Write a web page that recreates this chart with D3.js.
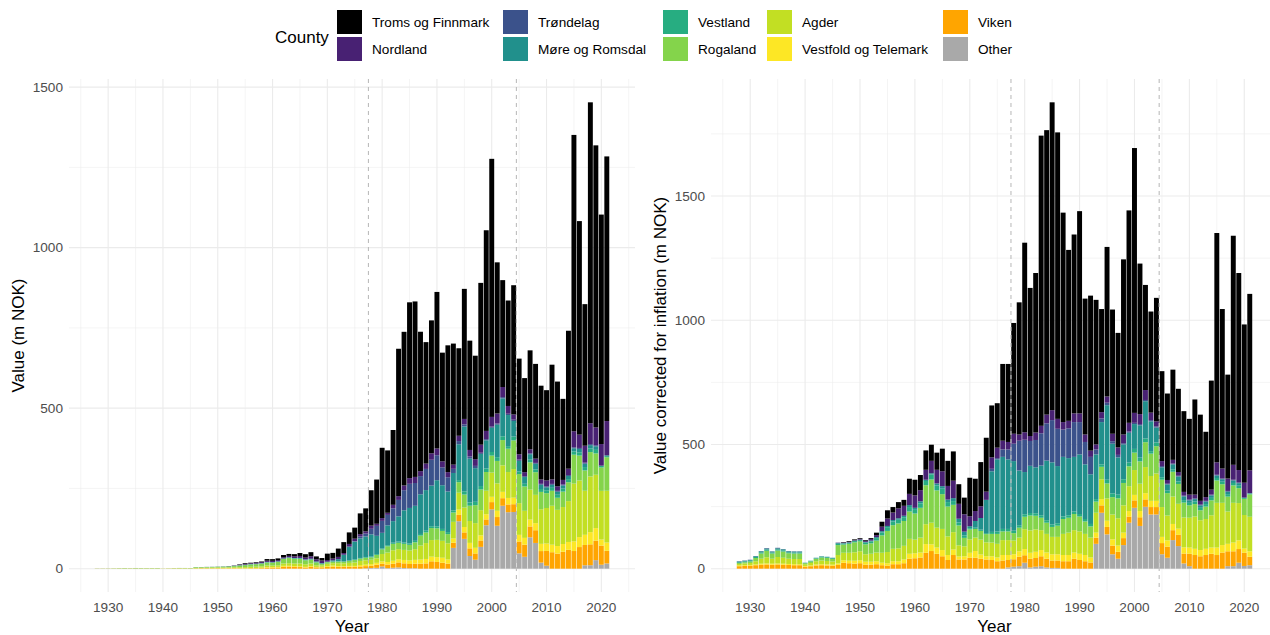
<!DOCTYPE html>
<html><head><meta charset="utf-8">
<script src="https://cdn.jsdelivr.net/npm/d3@7"></script>
<style>
body{margin:0;background:#fff}
svg{font-family:"Liberation Sans",Arial,Helvetica,sans-serif}
</style></head>
<body><svg id="chart" width="1270" height="635"></svg>
<script>
// ---------- DATA (values corrected for inflation, m NOK, 1928..2021) ----------
const firstYear = 1928, lastYear = 2021;
const years = d3.range(firstYear, lastYear + 1);

// consumer price index (2015 = 100) used to go from corrected to nominal values
const cpi = [
 2.85,2.75,2.65,2.55,2.5,2.48,2.5,2.55,2.6,2.75,
 2.85,2.9,3.4,3.9,4.3,4.5,4.6,4.7,4.8,4.9,
 5.0,5.0,5.3,6.2,6.75,6.9,7.2,7.25,7.5,7.7,
 8.1,8.27,8.3,8.5,8.95,9.2,9.7,10.1,10.4,10.9,
 11.25,11.6,12.8,13.6,14.6,15.7,17.2,19.2,20.9,22.8,
 24.7,25.9,28.7,32.6,36.3,39.3,41.8,44.2,47.4,51.5,
 55.0,57.5,59.9,61.9,63.3,64.8,65.7,67.3,68.1,69.9,
 71.5,73.1,75.4,77.7,78.7,80.7,81.0,82.3,84.2,84.9,
 88.1,89.9,92.2,93.3,94.0,96.0,97.9,100,103.6,105.5,
 108.4,110.8,112.2,116.1];

const other = [
 0,0,0,0,0,0,0,0,0,0, 0,0,0,0,0,0,0,0,0,0, 0,0,0,0,0,0,0,0,0,0, 0,0,0,0,0,0,0,0,0,0,
 0,0,0,0,0,0,0,0,0,5, 8,10,24,5,8,10,5,3,3,0, 0,0,0,0,0,100,225,138,58,40,
 95,185,245,172,249,218,218,58,44,115, 91,21,10,0,0,0,0,0,0,10, 10,24,11,14];
const viken = [
 10,11,12,14,16,17,16,17,16,15, 14,14,8,10,13,14,13,12,15,24, 22,20,22,16,16,18,14,12,18,18,
 22,40,42,45,64,71,60,50,35,55, 37,37,44,44,40,37,35,30,33,30, 30,38,30,35,35,40,35,30,30,30,
 30,40,35,30,25,25,30,30,35,28, 28,25,30,35,30,30,30,45,45,40, 45,40,50,55,50,55,60,55,65,60,
 60,55,53,34];
const vestfold = [
 3,3,3,3,4,4,4,4,4,4, 4,4,3,3,4,4,4,4,6,10, 10,12,12,12,12,12,10,10,12,12,
 15,20,20,20,35,27,25,25,20,22, 12,13,20,27,17,13,15,15,22,20, 20,22,25,24,25,25,25,25,25,25,
 25,25,25,25,20,20,25,25,25,25, 22,22,22,25,25,25,25,25,25,25, 25,25,25,25,25,25,25,30,30,30,
 35,35,17,22];
const agder = [
 6,7,8,13,20,25,20,26,24,21, 21,21,7,10,13,15,14,13,34,30, 32,34,36,30,32,35,40,45,50,52,
 55,60,55,60,80,87,80,85,75,70, 45,40,54,54,60,56,55,55,60,60, 55,55,80,90,90,80,75,70,70,85,
 90,90,90,85,80,80,80,90,100,110, 110,100,100,110,105,100,110,120,100,110, 100,120,120,130,120,120,130,180,170,130,
 160,150,135,139];
const rogaland = [
 4,5,6,13,21,26,21,26,25,22, 22,22,4,6,10,12,12,10,40,33, 36,40,40,40,42,48,70,85,95,100,
 100,110,105,120,157,174,150,140,120,110, 80,34,40,35,35,33,35,40,35,35, 30,40,50,60,55,50,45,40,45,60,
 60,65,60,50,45,45,50,60,70,80, 90,80,70,90,100,90,110,110,90,100, 80,60,50,50,40,50,60,90,75,60,
 70,60,65,90];
const vestland = [
 3,3,3,4,5,5,4,5,5,4, 4,4,1,2,2,3,3,3,5,4, 4,5,5,7,8,10,12,15,15,15,
 15,18,15,18,17,20,20,22,18,15, 12,10,5,5,5,4,8,10,10,10, 10,10,10,10,10,10,10,10,10,10,
 10,10,10,10,10,10,10,15,15,15, 15,15,15,15,15,10,15,10,10,10, 10,10,10,10,10,10,10,10,10,10,
 10,10,5,3];
const more = [
 3,3,3,3,4,4,4,4,4,4, 4,4,1,1,2,2,2,2,3,2, 2,2,2,3,3,4,5,5,6,6,
 6,8,8,8,5,5,8,10,10,12, 15,15,8,27,47,134,244,290,290,280, 280,220,170,190,185,200,240,250,230,240,
 230,220,240,220,200,180,170,300,200,150, 140,120,100,130,150,120,60,40,25,20, 20,15,10,10,10,10,10,10,10,10,
 10,10,0,2];
const trondelag = [
 1,1,1,1,1,2,1,2,1,1, 1,1,0,0,0,0,0,0,1,0, 0,0,0,0,0,0,0,0,0,0,
 0,0,0,0,0,0,0,0,0,0, 0,0,0,0,0,0,10,5,30,40, 70,120,130,100,110,130,150,170,150,110,
 120,140,130,90,70,20,15,10,10,10, 5,5,5,5,5,5,5,5,3,3, 3,3,3,3,3,3,3,3,3,3,
 3,3,0,0];
const nordland = [
 0,0,0,0,0,0,0,0,0,0, 0,0,0,0,0,0,0,0,1,2, 2,2,3,4,6,8,18,30,30,40,
 40,45,50,45,40,50,55,60,55,70, 60,70,40,40,47,33,46,42,35,30, 40,25,30,20,30,30,35,40,40,30,
 30,35,35,30,25,20,25,25,30,30, 35,35,40,40,40,30,20,20,15,15, 15,15,20,15,15,15,20,50,40,50,
 60,50,60,92];
const troms = [
 0,0,0,0,0,0,0,0,0,0, 0,0,0,0,0,0,0,0,0,2, 3,3,3,3,4,10,20,33,22,25,
 24,61,63,61,78,65,69,91,101,118, 79,67,155,130,178,217,209,179,309,314, 446,532,763,596,642,1168,1145,1239,1153,843,
 688,720,814,547,624,582,415,602,500,461, 705,855,1066,606,423,407,497,362,348,363, 335,325,305,383,347,263,439,923,642,418,
 922,793,637,710];

const counties = ["Troms og Finnmark","Nordland","Trøndelag","Møre og Romsdal","Vestland",
                  "Rogaland","Agder","Vestfold og Telemark","Viken","Other"];
const colors = ["#000000","#482173","#3B528B","#21908C","#27AD81",
                "#84D44B","#C2DF23","#FDE725","#FFA500","#A9A9A9"];
const seriesValues = [troms, nordland, trondelag, more, vestland, rogaland, agder, vestfold, viken, other];
const vlineYears = [1977.5, 2004.5];

// ---------- CHART ----------
const svg = d3.select("#chart");
const color = d3.scaleOrdinal(counties, colors);
const stackKeys = counties.slice().reverse(); // bottom = Other, top = Troms og Finnmark

function rows(nominal) {
  return years.map((y, i) => {
    const r = {year: y};
    counties.forEach((c, k) => {
      const v = seriesValues[k][i];
      r[c] = nominal ? v * cpi[i] / 100 : v;
    });
    return r;
  });
}

const panelTop = 79, panelBottom = 592;
const panels = [
  {x0: 69, x1: 635, nominal: true, title: "Value (m NOK)", titleX: 24},
  {x0: 711, x1: 1278, nominal: false, title: "Value corrected for inflation (m NOK)", titleX: 666}
];

svg.append("defs").append("clipPath").attr("id","clipAll")
  .append("rect").attr("x",0).attr("y",0).attr("width",1270).attr("height",635);

panels.forEach(p => {
  const data = rows(p.nominal);
  const stacked = d3.stack().keys(stackKeys)(data);
  const maxV = d3.max(data, d => d3.sum(stackKeys, k => d[k]));
  const xlo = firstYear - 0.45, xhi = lastYear + 0.45, xr = xhi - xlo;
  const x = d3.scaleLinear().domain([xlo - 0.05 * xr, xhi + 0.05 * xr]).range([p.x0, p.x1]);
  const y = d3.scaleLinear().domain([-0.05 * maxV, maxV * 1.05]).range([panelBottom, panelTop]);

  const g = svg.append("g").attr("clip-path","url(#clipAll)");

  // grid
  const yMajor = d3.range(0, maxV * 1.05, 500);
  const yMinor = d3.range(250, maxV * 1.05, 500);
  const xMajor = d3.range(1930, 2021, 10);
  const xMinor = d3.range(1925, 2026, 10);
  g.selectAll(null).data(yMinor).join("line")
    .attr("x1", p.x0).attr("x2", p.x1).attr("y1", d => y(d)).attr("y2", d => y(d))
    .attr("stroke", "#EBEBEB").attr("stroke-width", 0.55);
  g.selectAll(null).data(xMinor).join("line")
    .attr("y1", panelTop).attr("y2", panelBottom).attr("x1", d => x(d)).attr("x2", d => x(d))
    .attr("stroke", "#EBEBEB").attr("stroke-width", 0.55);
  g.selectAll(null).data(yMajor).join("line")
    .attr("x1", p.x0).attr("x2", p.x1).attr("y1", d => y(d)).attr("y2", d => y(d))
    .attr("stroke", "#EBEBEB").attr("stroke-width", 1.1);
  g.selectAll(null).data(xMajor).join("line")
    .attr("y1", panelTop).attr("y2", panelBottom).attr("x1", d => x(d)).attr("x2", d => x(d))
    .attr("stroke", "#EBEBEB").attr("stroke-width", 1.1);

  // bars
  const bw = x(0.9) - x(0);
  g.selectAll("g.layer").data(stacked).join("g").attr("class","layer")
    .attr("fill", s => color(s.key))
    .selectAll("rect").data(s => s).join("rect")
    .attr("x", d => x(d.data.year) - bw / 2)
    .attr("width", bw)
    .attr("y", d => y(d[1]))
    .attr("height", d => Math.max(0, y(d[0]) - y(d[1])));

  // dashed vertical lines
  g.selectAll(null).data(vlineYears).join("line")
    .attr("x1", d => x(d)).attr("x2", d => x(d)).attr("y1", panelTop).attr("y2", panelBottom)
    .attr("stroke", "#BDBDBD").attr("stroke-width", 1.1).attr("stroke-dasharray", "4,4");

  // tick labels
  svg.selectAll(null).data(yMajor).join("text")
    .attr("x", p.x0 - 6).attr("y", d => y(d) + 4.8)
    .attr("text-anchor", "end").attr("font-size", "13.6px").attr("fill", "#4D4D4D")
    .text(d => d);
  svg.selectAll(null).data(xMajor).join("text")
    .attr("x", d => x(d)).attr("y", 611.5)
    .attr("text-anchor", "middle").attr("font-size", "13.6px").attr("fill", "#4D4D4D")
    .text(d => d);

  // axis titles
  svg.append("text").attr("x", (p.x0 + p.x1) / 2).attr("y", 631.5)
    .attr("text-anchor", "middle").attr("font-size", "17px").attr("fill", "#000")
    .text("Year");
  svg.append("text")
    .attr("transform", `translate(${p.titleX},${(panelTop + panelBottom) / 2}) rotate(-90)`)
    .attr("text-anchor", "middle").attr("font-size", "17px").attr("fill", "#000")
    .text(p.title);
});

// ---------- LEGEND ----------
const legendCols = [337, 503, 663, 767, 943];
const legendRows = [10, 37];
svg.append("text").attr("x", 275).attr("y", 43).attr("font-size", "17px").attr("fill", "#000").text("County");
const leg = svg.append("g");
counties.forEach((c, i) => {
  const col = Math.floor(i / 2), row = i % 2;
  const lx = legendCols[col], ly = legendRows[row];
  leg.append("rect").attr("x", lx).attr("y", ly).attr("width", 25).attr("height", 24).attr("fill", color(c));
  leg.append("text").attr("x", lx + 35).attr("y", ly + 12 + 4.8)
    .attr("font-size", "13.6px").attr("fill", "#000").text(c);
});
</script></body></html>
